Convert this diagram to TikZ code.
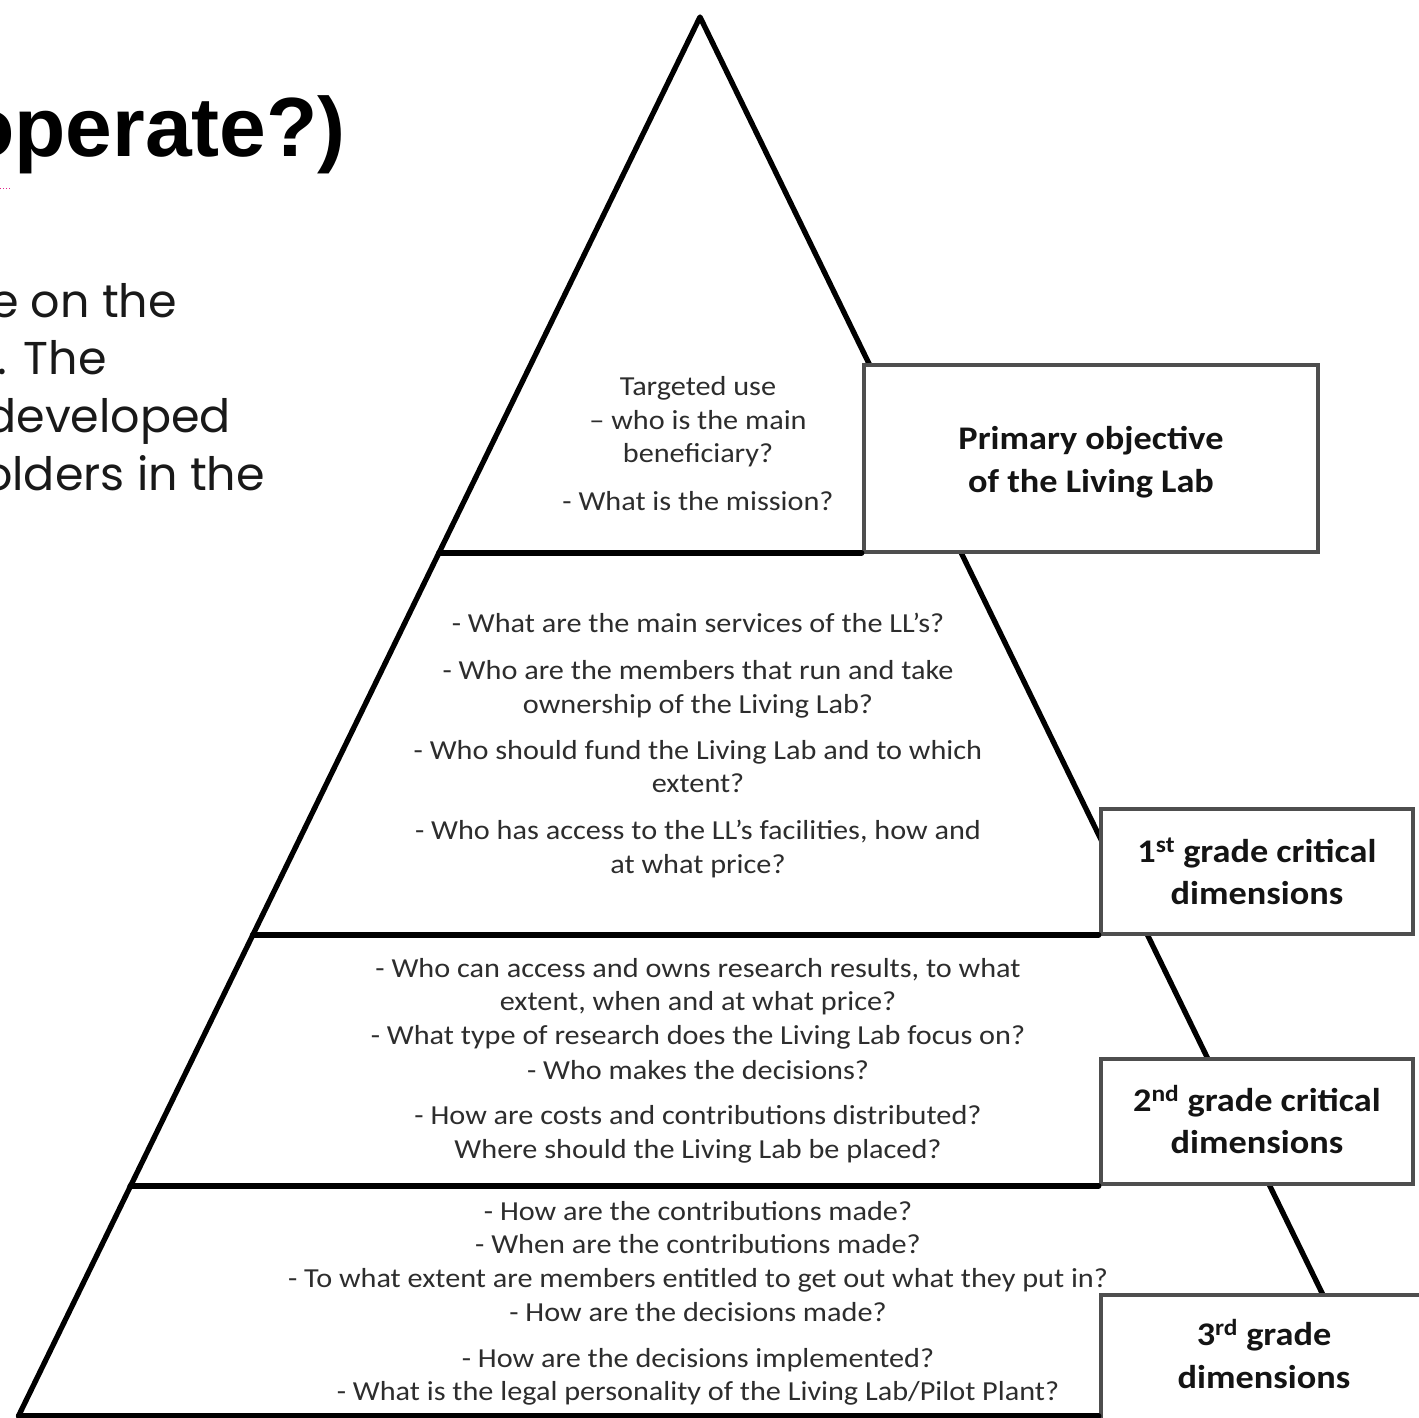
\documentclass[tikz,border=0pt]{standalone}
\usepackage{fontspec}
\newfontfamily\calf{Carlito}[FakeStretch=1.1]
\newfontfamily\headf{Liberation Sans}
\newfontfamily\bodyf{Poppins}
\definecolor{qgray}{RGB}{45,45,45}
\definecolor{boxgray}{RGB}{78,78,78}
\definecolor{bodyblack}{RGB}{25,25,25}
\definecolor{pinkdot}{RGB}{225,40,140}
\tikzset{
  pyr/.style={line width=5.3pt, black, line cap=round, line join=round},
  lvlbox/.style={rectangle, draw=boxgray, line width=4.5pt, fill=white, inner sep=0pt},
  qtext/.style={anchor=base, inner sep=0pt, text=qgray, font=\calf\fontsize{27.5}{33}\selectfont},
  btext/.style={anchor=base, inner sep=0pt, text=black!92, font=\calf\bfseries\fontsize{33}{43}\selectfont},
  headtext/.style={anchor=base east, inner sep=0pt, text=black, font=\headf\bfseries\fontsize{84}{100}\selectfont},
  bodytext/.style={anchor=base east, inner sep=0pt, text=bodyblack, font=\bodyf\fontsize{46}{57}\selectfont},
}
\newcommand\qline[3]{\node[qtext] (#1) at (698,#2) {#3};}
\begin{document}
\begin{tikzpicture}[x=1pt,y=-1pt]
\useasboundingbox (0,0) rectangle (1419,1418);
\clip (0,0) rectangle (1419,1418);
\fill[white] (0,0) rectangle (1419,1418);

% left slide text (cut off)
\node[headtext] (head) at (346,157) {operate?)};
\draw[pinkdot, line width=1pt, dotted] (0,188) -- (11,188);
\node[bodytext] (body1) at (177,317) {e on the};
\node[bodytext] (body2) at (107,374) {. The};
\node[bodytext] (body3) at (231,432) {developed};
\node[bodytext] (body4) at (265,490) {olders in the};

% pyramid
\coordinate (apex) at (700,17);
\coordinate (l1) at (438.7,553);
\coordinate (l2) at (252.5,935);
\coordinate (l3) at (130.1,1186);
\coordinate (l4) at (18.5,1416);
\coordinate (r4) at (1382,1416);
\draw[pyr] (l4) -- (apex) -- (r4);

% level boxes
\node[lvlbox, minimum width=454pt, minimum height=187pt] (prim) at (1091,458.5) {};
\node[lvlbox, minimum width=312pt, minimum height=125pt] (g1) at (1257,871.5) {};
\node[lvlbox, minimum width=312pt, minimum height=125pt] (g2) at (1257,1121.5) {};
\node[lvlbox, minimum width=330pt, minimum height=170pt] (g3) at (1266,1380) {};

% tier separators
\draw[pyr] (l1) -- (l1 -| prim.west);
\draw[pyr] (l2) -- (l2 -| g1.west);
\draw[pyr] (l3) -- (l3 -| g2.west);
\draw[pyr] (l4) -- (l4 -| g3.west);

% box texts
\node[btext] (primA) at (1091,449) {Primary objective};
\node[btext] (primB) at (1091,492) {of the Living Lab};
\node[btext] (g1A) at (1257,862) {1\textsuperscript{st} grade critical};
\node[btext] (g1B) at (1257,904) {dimensions};
\node[btext] (g2A) at (1257,1111) {2\textsuperscript{nd} grade critical};
\node[btext] (g2B) at (1257,1153) {dimensions};
\node[btext] (g3A) at (1264,1345) {3\textsuperscript{rd} grade};
\node[btext] (g3B) at (1264,1388) {dimensions};

% tier 1
\qline{t1a}{395}{Targeted use}
\qline{t1b}{429}{– who is the main}
\qline{t1c}{462}{beneficiary?}
\qline{t1d}{510}{- What is the mission?}
% tier 2
\qline{t2a}{632}{- What are the main services of the LL’s?}
\qline{t2b}{679}{- Who are the members that run and take}
\qline{t2c}{713}{ownership of the Living Lab?}
\qline{t2d}{759}{- Who should fund the Living Lab and to which}
\qline{t2e}{792}{extent?}
\qline{t2f}{839}{- Who has access to the LL’s facilities, how and}
\qline{t2g}{873}{at what price?}
% tier 3
\qline{t3a}{977}{- Who can access and owns research results, to what}
\qline{t3b}{1010}{extent, when and at what price?}
\qline{t3c}{1044}{- What type of research does the Living Lab focus on?}
\qline{t3d}{1079}{- Who makes the decisions?}
\qline{t3e}{1124}{- How are costs and contributions distributed?}
\qline{t3f}{1158}{Where should the Living Lab be placed?}
% tier 4
\qline{t4a}{1220}{- How are the contributions made?}
\qline{t4b}{1253}{- When are the contributions made?}
\qline{t4c}{1287}{- To what extent are members entitled to get out what they put in?}
\qline{t4d}{1321}{- How are the decisions made?}
\qline{t4e}{1367}{- How are the decisions implemented?}
\qline{t4f}{1400}{- What is the legal personality of  the Living Lab/Pilot Plant?}
\end{tikzpicture}
\end{document}
